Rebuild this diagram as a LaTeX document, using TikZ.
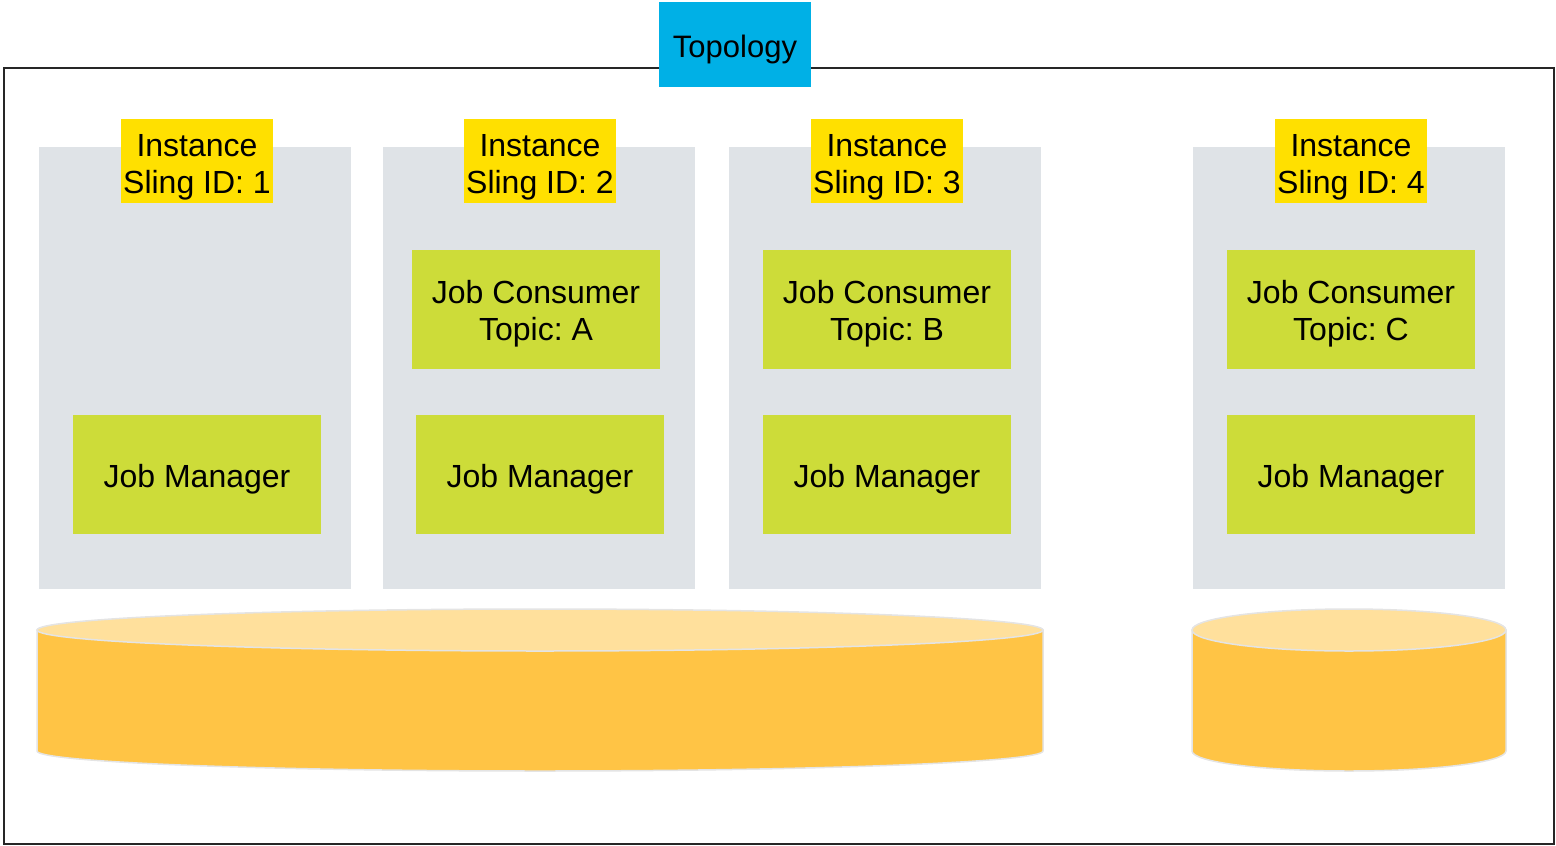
\documentclass[tikz,border=0pt]{standalone}
\usepackage{fontspec}
\setmainfont{Liberation Sans}
\frenchspacing
\definecolor{topo}{HTML}{00B0E6}
\definecolor{instgray}{HTML}{DFE3E7}
\definecolor{labyel}{HTML}{FFE000}
\definecolor{boxgreen}{HTML}{CDDC39}
\definecolor{cyltop}{HTML}{FFE09C}
\definecolor{cylbody}{HTML}{FFC445}
\definecolor{cylline}{HTML}{E4E4E4}
\begin{document}
\begin{tikzpicture}[x=1pt,y=-1pt,
  inst/.style={fill=instgray,draw=none,inner sep=0pt,minimum width=312pt,minimum height=442pt},
  lab/.style={fill=labyel,draw=none,inner sep=0pt,minimum width=152pt,minimum height=84pt,align=center,text height=72pt,font=\fontsize{32}{37}\selectfont},
  gbox/.style={fill=boxgreen,draw=none,inner sep=0pt,minimum width=248pt,minimum height=119pt,align=center,text height=33pt,font=\fontsize{32}{37}\selectfont},
  gboxtwo/.style={gbox,text height=68pt},
  topobox/.style={fill=topo,draw=none,inner sep=0pt,minimum width=152pt,minimum height=85pt,text height=32pt,font=\fontsize{31}{36}\selectfont},
  cylside/.style={draw=cylline,line width=1.5pt,fill=cylbody},
  cylcap/.style={draw=cylline,line width=1.5pt,fill=cyltop}]
\useasboundingbox (0,0) rectangle (1556,846);
% outer frame
\draw[line width=2.5pt,draw=black!85] (4,68) rectangle (1554,844);
\node[topobox] (topo) at (735,44.5) {Topology};
% instances
\node[inst] (i1) at (195,368) {};
\node[inst] (i2) at (539,368) {};
\node[inst] (i3) at (885,368) {};
\node[inst] (i4) at (1349,368) {};
\node[lab] (l1) at (197,161) {Instance\\Sling ID: 1};
\node[lab] (l2) at (540,161) {Instance\\Sling ID: 2};
\node[lab] (l3) at (887,161) {Instance\\Sling ID: 3};
\node[lab] (l4) at (1351,161) {Instance\\Sling ID: 4};
\node[gboxtwo] (c2) at (536,309.5) {Job Consumer\\Topic: A};
\node[gboxtwo] (c3) at (887,309.5) {Job Consumer\\Topic: B};
\node[gboxtwo] (c4) at (1351,309.5) {Job Consumer\\Topic: C};
\node[gbox] (m1) at (197,474.5) {Job Manager};
\node[gbox] (m2) at (540,474.5) {Job Manager};
\node[gbox] (m3) at (887,474.5) {Job Manager};
\node[gbox] (m4) at (1351,474.5) {Job Manager};
% large cylinder
\path[cylside] (37,630) -- (37,751) arc[start angle=180,end angle=0,x radius=503,y radius=20] -- (1043,630) -- cycle;
\draw[cylcap] (540,630) ellipse[x radius=503,y radius=21];
% small cylinder
\path[cylside] (1192,630) -- (1192,751) arc[start angle=180,end angle=0,x radius=157,y radius=20] -- (1506,630) -- cycle;
\draw[cylcap] (1349,630) ellipse[x radius=157,y radius=21];
\end{tikzpicture}
\end{document}
